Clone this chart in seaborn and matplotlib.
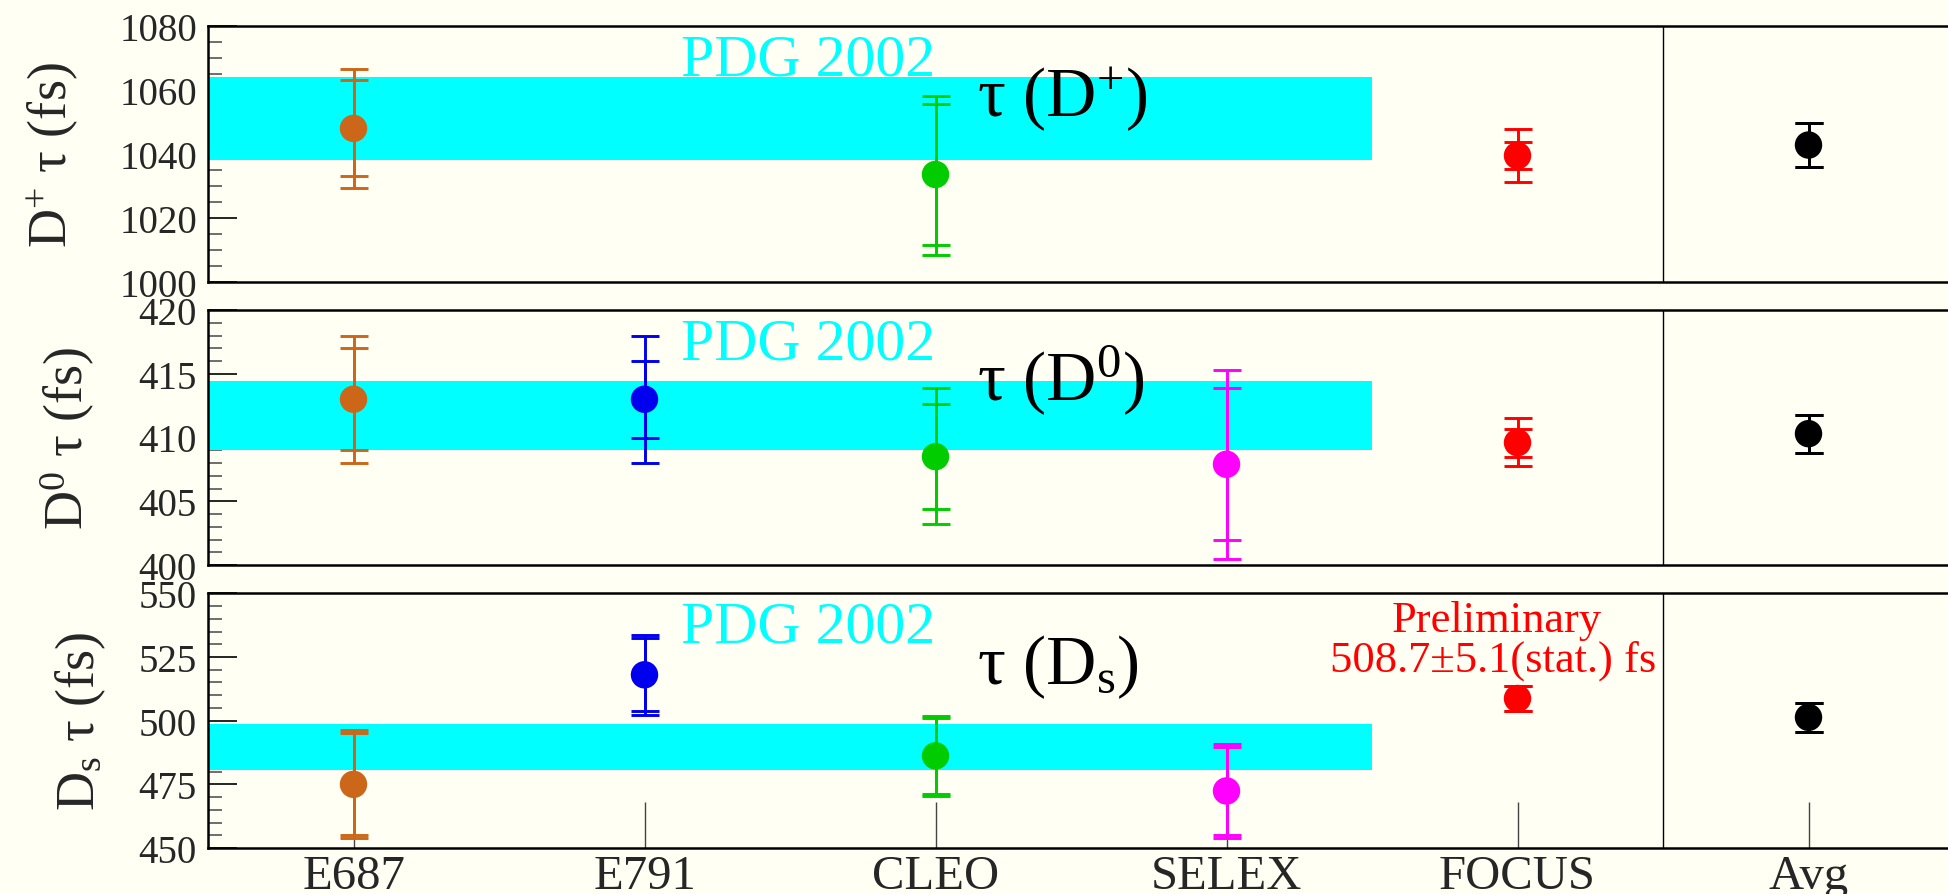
import numpy as np
import pandas as pd
import matplotlib
matplotlib.use("Agg")
import matplotlib.pyplot as plt
import matplotlib.transforms as mtransforms
from matplotlib.ticker import MultipleLocator
import seaborn as sns

# ---------------- data ----------------
categories = ["E687", "E791", "CLEO", "SELEX", "FOCUS", "Avg"]
colors = ["#cc6619", "#0000ee", "#00cc00", "#ff00ff", "#ff0000", "#000000"]

nan = np.nan
# D+ lifetimes (fs)
dplus_val = [1048.0, nan, 1033.6, nan, 1039.5, 1042.8]
dplus_stat = [15.0, nan, 22.0, nan, 4.2, 6.9]
dplus_tot_lo = [18.6, nan, 25.3, nan, 8.2, 6.9]
dplus_tot_hi = [18.6, nan, 24.4, nan, 8.2, 6.9]

# D0 lifetimes (fs)
dzero_val = [413.0, 413.0, 408.5, 407.9, 409.6, 410.3]
dzero_stat = [4.0, 3.0, 4.1, 5.95, 1.1, 1.5]
dzero_tot_lo = [5.0, 5.0, 5.3, 7.4, 1.8, 1.5]
dzero_tot_hi = [5.0, 5.0, 5.4, 7.4, 1.95, 1.5]

# Ds lifetimes (fs)
ds_val = [475.0, 518.0, 486.2, 472.4, 508.7, 501.3]
ds_stat = [20.0, 14.4, 15.0, 17.2, 5.1, 5.7]
ds_tot_lo = [21.2, 15.6, 15.8, 18.4, 5.1, 5.7]
ds_tot_hi = [21.2, 15.6, 15.8, 18.4, 5.1, 5.7]

# PDG 2002 bands
pdg_center = [1051.1, 411.7, 489.7]
pdg_half = [13.0, 2.7, 9.0]
pdg_label = "PDG 2002"

ylims = [(1000, 1080), (400, 420), (450, 550)]
major_steps = [20, 5, 25]
minor_steps = [5, 1, 5]
ylabels = [r"$\mathrm{D}^{+}$ τ (fs)", r"$\mathrm{D}^{0}$ τ (fs)",
           r"$\mathrm{D}_{\mathrm{s}}$ τ (fs)"]
titles = [r"τ ($\mathrm{D}^{+}$)", r"τ ($\mathrm{D}^{0}$)",
          r"τ ($\mathrm{D}_{\mathrm{s}}$)"]
prelim_lines = ["Preliminary", "508.7±5.1(stat.) fs"]

panels = [
    (dplus_val, dplus_stat, dplus_tot_lo, dplus_tot_hi),
    (dzero_val, dzero_stat, dzero_tot_lo, dzero_tot_hi),
    (ds_val, ds_stat, ds_tot_lo, ds_tot_hi),
]

# ---------------- style ----------------
bg = "#fffff4"
sns.set_theme(style="ticks")
plt.rcParams["font.family"] = ["Liberation Serif", "DejaVu Serif"]
plt.rcParams["mathtext.fontset"] = "custom"
plt.rcParams["mathtext.rm"] = "Liberation Serif"
plt.rcParams["mathtext.it"] = "Liberation Serif:italic"
plt.rcParams["mathtext.bf"] = "Liberation Serif:bold"

W, H = 1948, 895
fig = plt.figure(figsize=(W / 100, H / 100), dpi=100, facecolor=bg)

tops = [27, 311, 594.3]
bots = [283, 566, 849]
left_px = 208
width_px = 1746
label_x_px = [80, 97, 108]

pos = np.arange(len(categories))
palette = dict(zip(categories, colors))

for i, (vals, stat, tlo, thi) in enumerate(panels):
    ax = fig.add_axes([left_px / W, 1 - bots[i] / H, width_px / W,
                       (bots[i] - tops[i]) / H])
    ax.set_facecolor(bg)

    # PDG band
    ax.fill_between([pos[0] - 0.5, pos[3] + 0.5],
                    pdg_center[i] - pdg_half[i], pdg_center[i] + pdg_half[i],
                    color="#00ffff", lw=0, zorder=1)
    # divider
    ax.axvline(pos[4] + 0.5, color="black", lw=1.0, zorder=2)

    df = pd.DataFrame({"cat": categories, "x": pos, "val": vals,
                       "stat": stat, "tlo": tlo, "thi": thi}).dropna()

    for _, r in df.iterrows():
        c = palette[r["cat"]]
        ax.errorbar(r["x"], r["val"], yerr=[[r["tlo"]], [r["thi"]]],
                    fmt="none", ecolor=c, elinewidth=2.1, capsize=10,
                    capthick=2.1, zorder=3)
        ax.errorbar(r["x"], r["val"], yerr=[[r["stat"]], [r["stat"]]],
                    fmt="none", ecolor=c, elinewidth=2.1, capsize=10,
                    capthick=2.1, zorder=3)

    sns.scatterplot(data=df, x="x", y="val", hue="cat", palette=palette,
                    s=390, edgecolor="none", legend=False, ax=ax, zorder=5)

    ax.set_xlim(-0.5, 5.5)
    ax.set_ylim(*ylims[i])
    ax.yaxis.set_major_locator(MultipleLocator(major_steps[i]))
    ax.yaxis.set_minor_locator(MultipleLocator(minor_steps[i]))
    ax.tick_params(axis="y", which="major", direction="in", length=21,
                   width=1.2, color="black", labelsize=28, pad=8)
    ax.tick_params(axis="y", which="minor", direction="in", length=10,
                   width=1.2, color="#555555")
    ax.tick_params(axis="y", right=False, which="both")

    if i == 2:
        ax.set_xticks(pos, categories)
        ax.tick_params(axis="x", which="major", direction="in", length=33,
                       width=1.0, color="#444444", labelsize=35, pad=4,
                       top=False)
    else:
        ax.set_xticks(pos)
        ax.tick_params(axis="x", which="both", bottom=False, top=False,
                       labelbottom=False)
    ax.tick_params(axis="x", which="minor", bottom=False, top=False)

    ax.set_xlabel("")
    ax.set_ylabel(ylabels[i], fontsize=39)
    ax.yaxis.set_label_coords((label_x_px[i] - left_px) / width_px, 0.5)

    for side in ["left", "top", "bottom"]:
        ax.spines[side].set_linewidth(1.8)
        ax.spines[side].set_color("black")
    ax.spines["right"].set_visible(False)

    trans = mtransforms.blended_transform_factory(ax.transData, ax.transAxes)
    ax.text(1.124, 0.809, pdg_label, color="#00ffff", fontsize=43,
            ha="left", va="baseline", transform=trans, zorder=6)
    ax.text(2.144, 0.648, titles[i], color="black", fontsize=50,
            ha="left", va="baseline", transform=trans, zorder=6)

    if i == 2:
        ax.text(3.93, 0.852, prelim_lines[0], color="#ff0000", fontsize=32,
                ha="center", va="baseline", transform=trans, zorder=6)
        ax.text(3.917, 0.696, prelim_lines[1], color="#ff0000", fontsize=32,
                ha="center", va="baseline", transform=trans, zorder=6)

fig.savefig("out.png", dpi=100, facecolor=bg)
